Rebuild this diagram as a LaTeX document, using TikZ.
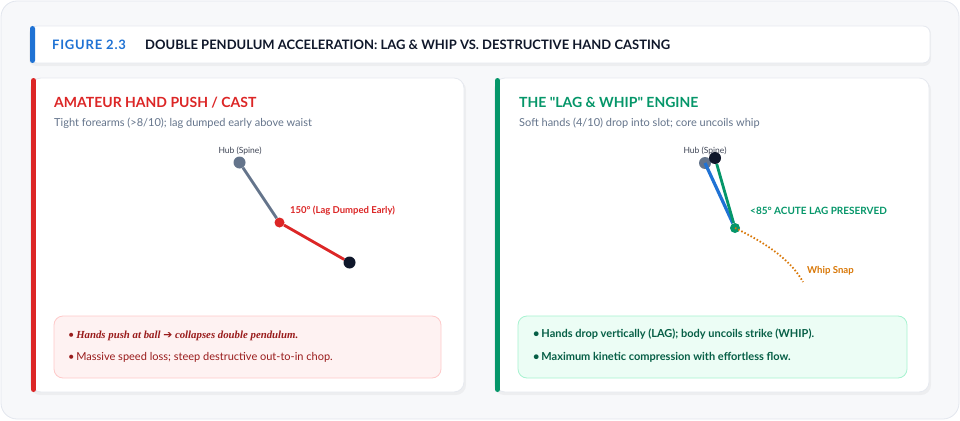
\documentclass[tikz,border=0pt]{standalone}
\usepackage{fontspec}
\setmainfont{Lato}
\newfontfamily\notefont{Liberation Serif}
\newfontfamily\symfont{DejaVu Sans}
\usetikzlibrary{positioning}

\definecolor{framebg}{HTML}{F7F8FA}
\definecolor{framegray}{HTML}{E2E6EE}
\definecolor{edgegray}{HTML}{E6E9EF}
\definecolor{figblue}{HTML}{1F72D4}
\definecolor{ink}{HTML}{0F172A}
\definecolor{subgray}{HTML}{64748B}
\definecolor{castred}{HTML}{DC2626}
\definecolor{whipgreen}{HTML}{059669}
\definecolor{snaporange}{HTML}{D97706}
\definecolor{redfill}{HTML}{FEF2F2}
\definecolor{redline}{HTML}{FECACA}
\definecolor{redtext}{HTML}{991B1B}
\definecolor{greenfill}{HTML}{ECFDF5}
\definecolor{greenline}{HTML}{A7F3D0}
\definecolor{greentext}{HTML}{065F46}

\tikzset{
  panel/.style={fill=white, draw=edgegray, line width=0.8pt, rounded corners=10pt},
  accent/.style={line width=5pt, line cap=round},
  notebox/.style={line width=0.8pt, rounded corners=9pt},
  txt/.style={inner sep=0pt, anchor=base west},
  joint/.style={circle, inner sep=0pt, minimum size=#1},
  arm/.style={line width=2.8pt},
}

\begin{document}
\begin{tikzpicture}[x=1pt, y=-1pt]
  \useasboundingbox (0,0) rectangle (960,420);
  % frame
  \draw[fill=framebg, draw=framegray, line width=0.8pt, rounded corners=16pt] (1,1) rectangle (959,419);

  % title bar
  \fill[black, opacity=0.04, rounded corners=7pt] (29,27) rectangle (931,66);
  \draw[panel, rounded corners=7pt] (30,26) rectangle (930,63);
  \fill[figblue, rounded corners=2.5pt] (30,26) rectangle (35,63);
  \node[txt, text=figblue, font=\fontsize{13}{15}\selectfont\bfseries\addfontfeatures{LetterSpace=6}] (fig) at (52,50) {FIGURE 2.3};
  \node[txt, text=ink, font=\fontsize{13}{15}\selectfont\bfseries] (title) at (145,50) {DOUBLE PENDULUM ACCELERATION: LAG \& WHIP VS. DESTRUCTIVE HAND CASTING};

  % panels
  \fill[black, opacity=0.04, rounded corners=10pt] (30,80) rectangle (466,395);
  \fill[black, opacity=0.04, rounded corners=10pt] (494,80) rectangle (931,395);
  \draw[panel] (31,78) rectangle (464,392);
  \draw[panel] (495,78) rectangle (929,392);
  \draw[accent, castred] (33.5,80.5) -- (33.5,389.5);
  \draw[accent, whipgreen] (497.5,80.5) -- (497.5,389.5);

  % left: hand cast
  \node[txt, text=castred, font=\fontsize{14}{16}\selectfont\bfseries] (headA) at (54,107.5) {AMATEUR HAND PUSH / CAST};
  \node[txt, text=subgray, font=\fontsize{11}{13}\selectfont] (subA) at (54,126) {Tight forearms (>8/10); lag dumped early above waist};

  \node[joint=12pt, fill=subgray] (hubA) at (239.5,162.5) {};
  \node[joint=10pt, fill=castred] (wristA) at (279.5,222.5) {};
  \node[joint=12pt, fill=ink] (clubA) at (349.5,262.5) {};
  \node[text=ink!80, font=\fontsize{8.5}{10}\selectfont, anchor=base] (hubAlab) at (240,153) {Hub (Spine)};
  \draw[arm, subgray] (hubA) -- (wristA);
  \draw[arm, castred] (wristA) -- (clubA);
  \node[txt, text=castred, font=\fontsize{9.5}{11}\selectfont\bfseries] (angA) at (290,213.5) {150° (Lag Dumped Early)};

  \draw[notebox, fill=redfill, draw=redline] (54,316) rectangle (441,378);
  \node[txt, text=redtext, font=\fontsize{10.8}{13}\selectfont] (noteA1) at (68,338) {•\,{\notefont\bfseries\itshape Hands push at ball {\symfont\upshape\mdseries ➔} collapses double pendulum.}};
  \node[txt, text=redtext, font=\fontsize{11}{13}\selectfont] (noteA2) at (68,360) {•\,Massive speed loss; steep destructive out-to-in chop.};

  % right: lag and whip
  \node[txt, text=whipgreen, font=\fontsize{14}{16}\selectfont\bfseries\addfontfeatures{Ligatures=TeXOff}] (headB) at (519,107.5) {THE "LAG \& WHIP" ENGINE};
  \node[txt, text=subgray, font=\fontsize{11}{13}\selectfont] (subB) at (519,126) {Soft hands (4/10) drop into slot; core uncoils whip};

  \node[joint=12pt, fill=subgray] (hubB) at (705,163) {};
  \node[joint=10pt, fill=whipgreen] (wristB) at (735,228) {};
  \node[text=ink!80, font=\fontsize{8.5}{10}\selectfont, anchor=base] (hubBlab) at (705,153) {Hub (Spine)};
  \node[joint=12pt, fill=ink] (clubB) at (715,158) {};
  \draw[arm, figblue, line width=3.2pt] (hubB.center) -- (wristB);
  \draw[arm, whipgreen] (clubB) -- (wristB);
  \draw[snaporange, line width=1.8pt, dash pattern=on 1.5pt off 2pt] (wristB.center) .. controls (770,245) and (792,262) .. (803,282);
  \node[txt, text=whipgreen, font=\fontsize{10}{12}\selectfont\bfseries] (angB) at (750,214) {<85° ACUTE LAG PRESERVED};
  \node[txt, text=snaporange, font=\fontsize{9.6}{11}\selectfont\bfseries] (snap) at (807,273) {Whip Snap};

  \draw[notebox, fill=greenfill, draw=greenline] (518,316) rectangle (907,378);
  \node[txt, text=greentext, font=\fontsize{11}{13}\selectfont\bfseries] (noteB1) at (533,337.5) {•\,Hands drop vertically (LAG); body uncoils strike (WHIP).};
  \node[txt, text=greentext, font=\fontsize{11}{13}\selectfont\bfseries] (noteB2) at (533,360) {•\,Maximum kinetic compression with effortless flow.};
\end{tikzpicture}
\end{document}
